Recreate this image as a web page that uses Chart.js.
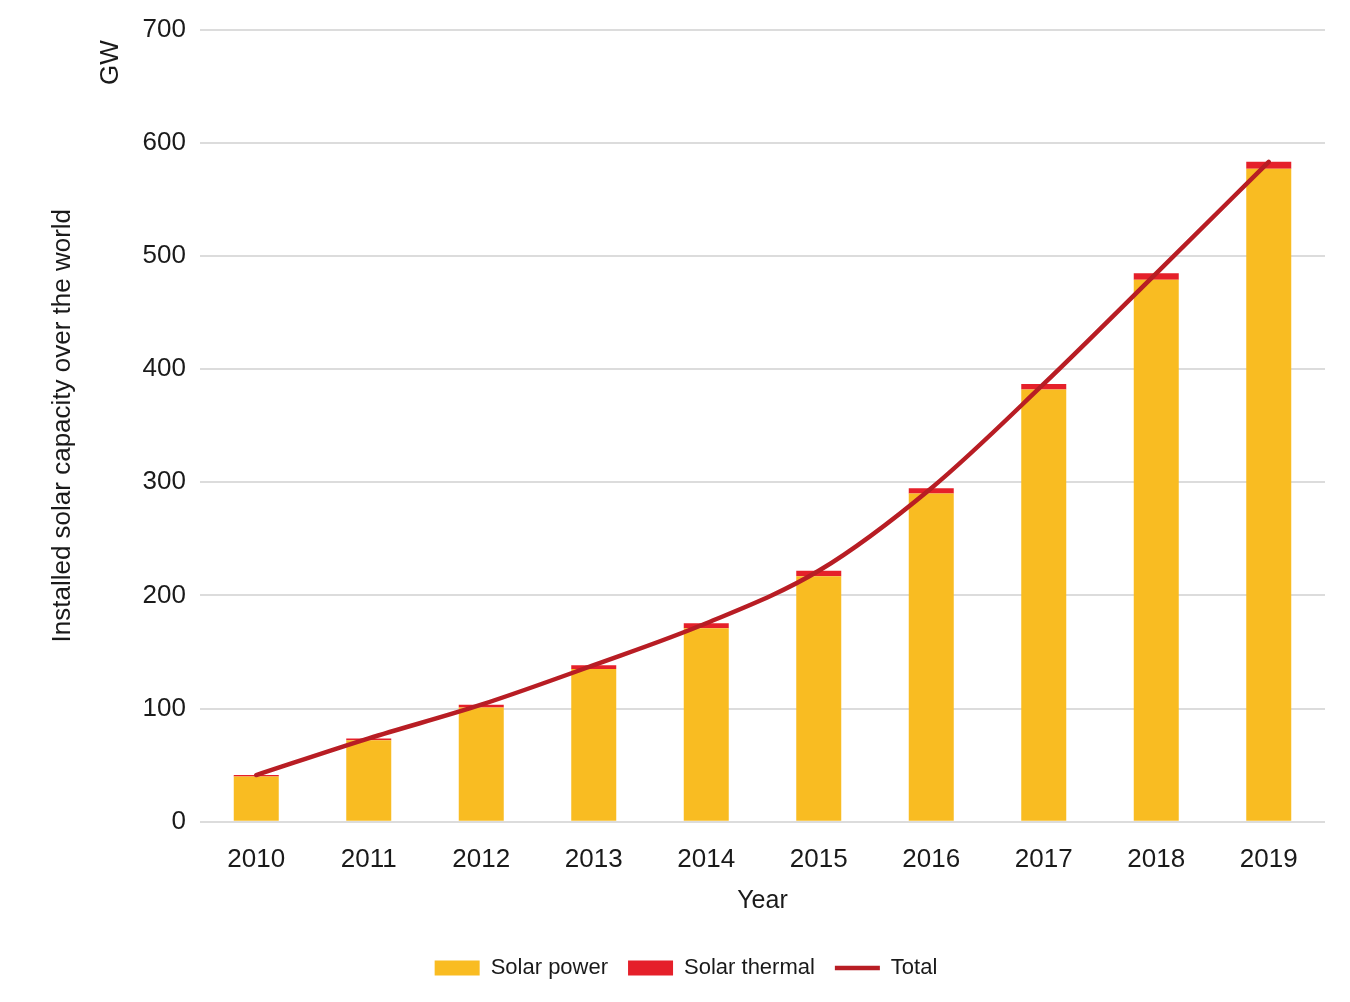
<!DOCTYPE html>
<html>
<head>
<meta charset="utf-8">
<script src="https://cdn.jsdelivr.net/npm/chart.js@4/dist/chart.umd.min.js"></script>
<style>
    html, body { margin: 0; padding: 0; background: #fff; }
    #wrap { width: 1350px; height: 1002px; position: relative; }
</style>
</head>
<body>
<div id="wrap"><canvas id="solarChart"></canvas></div>
<script>
const years = ['2010', '2011', '2012', '2013', '2014', '2015', '2016', '2017', '2018', '2019'];
const solarPower = [40, 72, 101, 135, 171, 217, 290, 382, 479, 577];
const solarThermal = [1.3, 1.7, 2.5, 3.4, 4.4, 4.8, 4.8, 4.9, 5.6, 6.2];
const totals = [41.3, 73.7, 103.5, 138.4, 175.4, 221.8, 294.8, 386.9, 484.6, 583.2];

const FONT = '"Liberation Sans", Arial, Helvetica, sans-serif';
const TEXT = '#1a1a1a';

// rotated unit label at the top of the y axis
const unitLabel = {
    id: 'unitLabel',
    afterDraw(chart) {
        const ctx = chart.ctx;
        const area = chart.chartArea;
        ctx.save();
        ctx.translate(area.left - 89, area.top + 33);
        ctx.rotate(-Math.PI / 2);
        ctx.font = '26px ' + FONT;
        ctx.fillStyle = TEXT;
        ctx.textAlign = 'center';
        ctx.textBaseline = 'middle';
        ctx.fillText('GW', 0, 0);
        ctx.restore();
    }
};

const ctx = document.getElementById('solarChart').getContext('2d');

new Chart(ctx, {
    type: 'bar',
    data: {
        labels: years,
        datasets: [
            {
                label: 'Solar power',
                data: solarPower,
                backgroundColor: '#F9BC22',
                borderWidth: 0,
                pointStyle: 'rect',
                stack: 'solar',
                barPercentage: 0.4,
                categoryPercentage: 1,
                order: 1,
            },
            {
                label: 'Solar thermal',
                data: solarThermal,
                backgroundColor: '#E5202A',
                borderWidth: 0,
                pointStyle: 'rect',
                stack: 'solar',
                barPercentage: 0.4,
                categoryPercentage: 1,
                order: 1,
            },
            {
                type: 'line',
                label: 'Total',
                data: totals,
                borderColor: '#B81D24',
                backgroundColor: '#B81D24',
                borderWidth: 4.5,
                borderCapStyle: 'round',
                pointRadius: 0,
                pointStyle: 'line',
                cubicInterpolationMode: 'monotone',
                stack: 'total',
                order: 0,
            },
        ]
    },
    options: {
        responsive: true,
        maintainAspectRatio: false,
        animation: false,
        layout: {
            padding: { top: 16, right: 25, bottom: 13, left: 47 }
        },
        plugins: {
            tooltip: { enabled: false },
            legend: {
                position: 'bottom',
                labels: {
                    usePointStyle: true,
                    pointStyleWidth: 45,
                    boxWidth: 45,
                    boxHeight: 15,
                    padding: 20,
                    color: TEXT,
                    font: { family: FONT, size: 22 },
                    sort: (a, b) => a.datasetIndex - b.datasetIndex,
                }
            }
        },
        scales: {
            x: {
                stacked: true,
                grid: { display: false, drawTicks: false },
                border: { display: false },
                ticks: {
                    color: TEXT,
                    padding: 22,
                    font: { family: FONT, size: 26 },
                },
                title: {
                    display: true,
                    text: 'Year',
                    color: TEXT,
                    padding: { top: -11, bottom: 21 },
                    font: { family: FONT, size: 25 },
                },
            },
            y: {
                stacked: true,
                min: 0,
                max: 700,
                grid: { color: '#dcdcdc', lineWidth: 2, drawTicks: false },
                border: { display: false },
                ticks: {
                    stepSize: 100,
                    color: TEXT,
                    padding: 14,
                    font: { family: FONT, size: 26 },
                },
                title: {
                    display: true,
                    text: 'Installed solar capacity over the world',
                    color: TEXT,
                    padding: { top: 0, bottom: 0 },
                    font: { family: FONT, size: 26 },
                },
                afterFit(scale) {
                    scale.width = 153;
                },
            },
        },
    },
    plugins: [unitLabel],
});
</script>
</body>
</html>
